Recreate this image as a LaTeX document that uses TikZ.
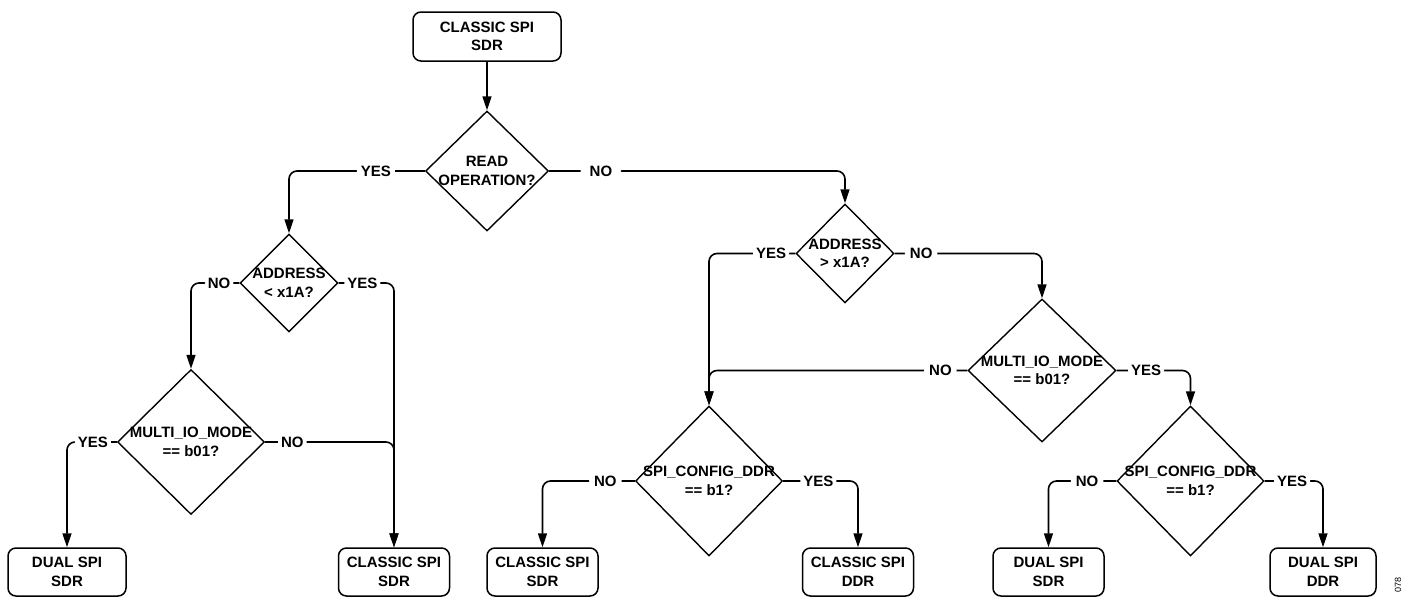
\documentclass[tikz,border=0pt]{standalone}
\usepackage{fontspec}
\setmainfont{Liberation Sans}
\usetikzlibrary{positioning, arrows.meta, shapes.geometric}

\begin{document}
\begin{tikzpicture}[
  x=1pt, y=-1pt,
  txt/.style={font=\fontsize{15}{18.5}\selectfont\bfseries, align=center},
  mode/.style={txt, draw, rectangle, rounded corners=8pt, line width=1.5pt, minimum width=111pt, minimum height=48pt, inner sep=0pt},
  test/.style={txt, draw, diamond, line width=1.4pt, inner sep=-5pt},
  arrow/.style={-{Triangle[length=14pt, width=9pt]}, line width=1.6pt, rounded corners=8pt},
  lbl/.style={txt, fill=white, inner xsep=3pt, inner ysep=1pt}
]
  \useasboundingbox (0,0) rectangle (1406,597);

  % start and decisions
  \node[mode, minimum width=148pt, minimum height=49pt] (start) at (487,36.5) {CLASSIC SPI\\SDR};
  \node[test, minimum width=123pt, minimum height=120pt] (read)   at (487,171)   {READ\\OPERATION?};
  \node[test, minimum width=98pt,  minimum height=98pt]  (addrL)  at (289,283)   {ADDRESS\\< x1A?};
  \node[test, minimum width=147pt, minimum height=145pt] (multiL) at (191,442)   {MULTI\_IO\_MODE\\== b01?};
  \node[test, minimum width=98pt,  minimum height=99pt]  (addrR)  at (845,253.5) {ADDRESS\\> x1A?};
  \node[test, minimum width=148pt, minimum height=143pt] (multiR) at (1042,370.5) {MULTI\_IO\_MODE\\== b01?};
  \node[test, minimum width=147pt, minimum height=150pt] (cfgL)   at (709,481)   {SPI\_CONFIG\_DDR\\== b1?};
  \node[test, minimum width=147pt, minimum height=150pt] (cfgR)   at (1190.5,481) {SPI\_CONFIG\_DDR\\== b1?};

  % resulting modes
  \node[mode, minimum width=118pt] (dualA)    at (67,572)     {DUAL SPI\\SDR};
  \node[mode]                      (classicA) at (394,572)    {CLASSIC SPI\\SDR};
  \node[mode]                      (classicB) at (542.5,572)  {CLASSIC SPI\\SDR};
  \node[mode]                      (classicD) at (858,572)    {CLASSIC SPI\\DDR};
  \node[mode]                      (dualB)    at (1048.5,572) {DUAL SPI\\SDR};
  \node[mode, minimum width=106pt] (dualD)    at (1323,572)   {DUAL SPI\\DDR};

  \node[font=\fontsize{9}{10}\selectfont, rotate=90] (fig) at (1398,585) {078};

  \draw[arrow] (start.south) -- (read.north);
  \draw[arrow] (read.west) -- node[lbl, pos=0.36, inner xsep=4pt] {YES} (read.west -| addrL.north) -- (addrL.north);
  \draw[arrow] (read.east) -- node[lbl, pos=0.175, inner xsep=9pt] {NO} (read.east -| addrR.north) -- (addrR.north);

  \draw[arrow] (addrL.west) -- node[lbl, pos=0.42] {NO} (addrL.west -| multiL.north) -- (multiL.north);
  \draw[arrow] (addrL.east) -- node[lbl, pos=0.43] {YES} (addrL.east -| classicA.north) -- (classicA.north);
  \draw[arrow] (multiL.west) -- node[lbl, pos=0.48] {YES} (multiL.west -| dualA.north) -- (dualA.north);
  \draw[arrow] (multiL.east) -- node[lbl, pos=0.21] {NO} (multiL.east -| classicA.north) -- (classicA.north);

  \draw[arrow] (addrR.west) -- node[lbl, pos=0.28] {YES} (addrR.west -| cfgL.north) -- (cfgL.north);
  \draw[arrow] (addrR.east) -- node[lbl, pos=0.18, inner xsep=5pt] {NO} (addrR.east -| multiR.north) -- (multiR.north);
  \draw[arrow] (multiR.west) -- node[lbl, pos=0.104, inner xsep=5pt] {NO} (multiR.west -| cfgL.north) -- (cfgL.north);
  \draw[arrow] (multiR.east) -- node[lbl, pos=0.4] {YES} (multiR.east -| cfgR.north) -- (cfgR.north);

  \draw[arrow] (cfgL.west) -- node[lbl, pos=0.32, inner xsep=5pt] {NO} (cfgL.west -| classicB.north) -- (classicB.north);
  \draw[arrow] (cfgL.east) -- node[lbl, pos=0.47] {YES} (cfgL.east -| classicD.north) -- (classicD.north);
  \draw[arrow] (cfgR.west) -- node[lbl, pos=0.43, inner xsep=5pt] {NO} (cfgR.west -| dualB.north) -- (dualB.north);
  \draw[arrow] (cfgR.east) -- node[lbl, pos=0.47] {YES} (cfgR.east -| dualD.north) -- (dualD.north);
\end{tikzpicture}
\end{document}
